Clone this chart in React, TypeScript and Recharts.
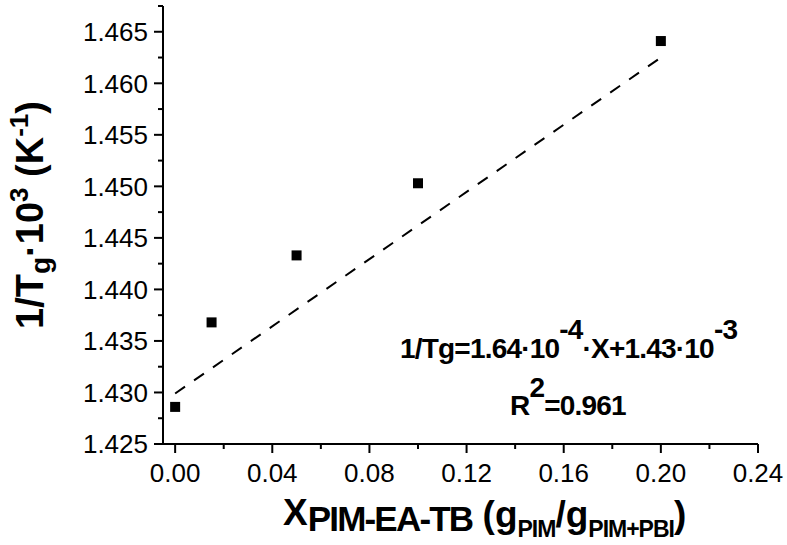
import React from 'react';
import { ComposedChart, XAxis, YAxis, Scatter, Line } from 'recharts';

// ---- data ----
const xValues = [0, 0.015, 0.05, 0.1, 0.2];
const yValues = [1.4286, 1.4368, 1.4433, 1.4503, 1.4641];
const fitX = [0, 0.2];
const fitY = [1.4299, 1.4625];

const xMajorTicks = [0, 0.04, 0.08, 0.12, 0.16, 0.2, 0.24];
const xMinorTicks = [0.02, 0.06, 0.1, 0.14, 0.18, 0.22];
const yMajorTicks = [1.425, 1.43, 1.435, 1.44, 1.445, 1.45, 1.455, 1.46, 1.465];
const yMinorTicks = [1.4275, 1.4325, 1.4375, 1.4425, 1.4475, 1.4525, 1.4575, 1.4625, 1.4675];

const xDomain = [-0.005, 0.24];
const yDomain = [1.425, 1.4675];

const points = xValues.map((x, i) => ({ x, y: yValues[i] }));
const fitLine = fitX.map((x, i) => ({ x, y: fitY[i] }));

const FONT = '"Liberation Sans", Arial, Helvetica, sans-serif';

const isMajor = (v: number, list: number[]) => list.some((m) => Math.abs(m - v) < 1e-9);

const YTick = (props: any) => {
  const { x, y, payload } = props;
  const major = isMajor(payload.value, yMajorTicks);
  return (
    <g>
      <line x1={x - (major ? 9 : 5)} x2={x} y1={y} y2={y} stroke="#000" strokeWidth={2} />
      {major && (
        <text x={x - 15} y={y} dy="0.36em" textAnchor="end" fontFamily={FONT} fontSize={26} fill="#000">
          {payload.value.toFixed(3)}
        </text>
      )}
    </g>
  );
};

const XTick = (props: any) => {
  const { x, y, payload } = props;
  const major = isMajor(payload.value, xMajorTicks);
  return (
    <g>
      <line x1={x} x2={x} y1={y} y2={y + (major ? 9 : 5)} stroke="#000" strokeWidth={2} />
      {major && (
        <text x={x} y={y + 38} textAnchor="middle" fontFamily={FONT} fontSize={26} fill="#000">
          {payload.value.toFixed(2)}
        </text>
      )}
    </g>
  );
};

const SquareDot = (props: any) => {
  const { cx, cy } = props;
  return <rect x={cx - 5} y={cy - 5} width={10} height={10} fill="#000" />;
};

export default function App() {
  const xTicks = [...xMajorTicks, ...xMinorTicks].sort((a, b) => a - b);
  const yTicks = [...yMajorTicks, ...yMinorTicks].sort((a, b) => a - b);
  return (
    <div style={{ position: 'absolute', left: 0, top: 0, width: 787, height: 545, background: '#fff' }}>
      <ComposedChart width={787} height={545} margin={{ top: 6, right: 29, bottom: 0, left: 0 }}>
        <XAxis
          type="number"
          dataKey="x"
          domain={xDomain}
          ticks={xTicks}
          interval={0}
          height={101}
          tickSize={0}
          tickMargin={0}
          tickLine={false}
          axisLine={{ stroke: '#000', strokeWidth: 2 }}
          tick={XTick}
          allowDataOverflow
        />
        <YAxis
          type="number"
          dataKey="y"
          domain={yDomain}
          ticks={yTicks}
          interval={0}
          width={163}
          tickSize={0}
          tickMargin={0}
          tickLine={false}
          axisLine={{ stroke: '#000', strokeWidth: 2 }}
          tick={YTick}
          allowDataOverflow
        />
        <Line
          data={fitLine}
          dataKey="y"
          type="linear"
          stroke="#000"
          strokeWidth={2}
          strokeDasharray="12 11"
          dot={false}
          activeDot={false}
          isAnimationActive={false}
          legendType="none"
        />
        <Scatter data={points} dataKey="y" fill="#000" shape={SquareDot} isAnimationActive={false} />
        <g>
          <text x={283} y={525} fontFamily={FONT} fontWeight="bold" fontSize={37} fill="#000">
            <tspan>X</tspan>
            <tspan fontSize={35} dy={6} letterSpacing={-1.8}>PIM-EA-TB</tspan>
            <tspan fontSize={37} dy={-4}>{' (g'}</tspan>
            <tspan fontSize={23} dy={10} letterSpacing={-1}>PIM</tspan>
            <tspan fontSize={37} dy={-10}>/g</tspan>
            <tspan fontSize={23} dy={10} letterSpacing={-1}>PIM+PBI</tspan>
            <tspan fontSize={37} dy={-10}>)</tspan>
          </text>
          <text
            x={43}
            y={215}
            transform="rotate(-90, 43, 215)"
            textAnchor="middle"
            fontFamily={FONT}
            fontWeight="bold"
            fontSize={38}
            fill="#000"
          >
            <tspan>1/T</tspan>
            <tspan fontSize={28} dy={7}>g</tspan>
            <tspan fontSize={38} dy={-7}>·10</tspan>
            <tspan fontSize={26} dy={-15}>3</tspan>
            <tspan fontSize={38} dy={15}>{' (K'}</tspan>
            <tspan fontSize={26} dy={-15}>-1</tspan>
            <tspan fontSize={38} dy={15}>)</tspan>
          </text>
          <text x={400} y={358} fontFamily={FONT} fontWeight="bold" fontSize={28} letterSpacing={-0.8} fill="#000">
            <tspan>1/Tg=1.64·10</tspan>
            <tspan dy={-19}>-4</tspan>
            <tspan dy={19}>·X+1.43·10</tspan>
            <tspan dy={-19}>-3</tspan>
          </text>
          <text x={510} y={415} fontFamily={FONT} fontWeight="bold" fontSize={28} letterSpacing={-0.8} fill="#000">
            <tspan>R</tspan>
            <tspan dy={-18}>2</tspan>
            <tspan dy={18}>=0.961</tspan>
          </text>
        </g>
      </ComposedChart>
    </div>
  );
}
